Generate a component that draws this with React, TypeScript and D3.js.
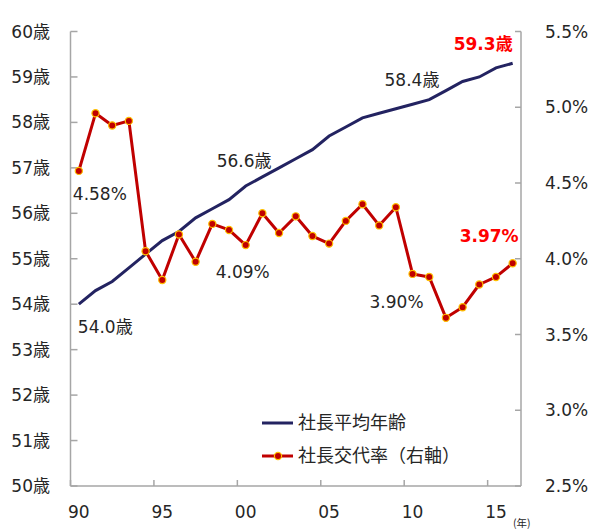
import React from "react";
import * as d3 from "d3";

// 社長平均年齢 (左軸) と 社長交代率 (右軸)
const years = d3.range(1990, 2017);
const ageValues = [
  54.0, 54.3, 54.5, 54.8, 55.1, 55.4, 55.6, 55.9, 56.1, 56.3, 56.6, 56.8, 57.0, 57.2,
  57.4, 57.7, 57.9, 58.1, 58.2, 58.3, 58.4, 58.5, 58.7, 58.9, 59.0, 59.2, 59.3,
];
const rateValues = [
  4.58, 4.96, 4.88, 4.91, 4.05, 3.86, 4.16, 3.98, 4.23, 4.19, 4.09, 4.3, 4.17, 4.28,
  4.15, 4.1, 4.25, 4.36, 4.22, 4.34, 3.9, 3.88, 3.61, 3.68, 3.83, 3.88, 3.97,
];
const ageTicks = d3.range(50, 61);
const rateTicks = [2.5, 3.0, 3.5, 4.0, 4.5, 5.0, 5.5];
const xTickYears = [1990, 1995, 2000, 2005, 2010, 2015];
const seriesNames = ["社長平均年齢", "社長交代率（右軸）"];

// 注記: [系列, 年, テキスト, 強調]
const notes: [string, number, string, boolean][] = [
  ["rate", 1990, "4.58%", false],
  ["rate", 2000, "4.09%", false],
  ["rate", 2010, "3.90%", false],
  ["rate", 2016, "3.97%", true],
  ["age", 1990, "54.0歳", false],
  ["age", 2000, "56.6歳", false],
  ["age", 2010, "58.4歳", false],
  ["age", 2016, "59.3歳", true],
];

const W = 600;
const H = 531;
const left = 70.5;
const right = 521;
const top = 31.5;
const bottom = 486;

const FONT = "'DejaVu Sans', 'Noto Sans CJK JP', sans-serif";
const JP = "'Noto Sans CJK JP', sans-serif";
const NAVY = "#232361";
const RED = "#C00000";
const AXIS = "#A6A6A6";
const TEXT = "#262626";

// 注記の位置 (点からのずれ)
const noteOffset: Record<string, [number, number, string]> = {
  "4.58%": [-6, 29, "start"],
  "4.09%": [-30, 33, "start"],
  "3.90%": [-43, 34, "start"],
  "3.97%": [6, -21, "end"],
  "54.0歳": [-1, 29, "start"],
  "56.6歳": [-29, -19, "start"],
  "58.4歳": [-28, -18, "start"],
  "59.3歳": [0, -13, "end"],
};

export default function App() {
  const x = d3.scaleBand<number>().domain(years).range([left, right]);
  const cx = (yr: number) => (x(yr) ?? 0) + x.bandwidth() / 2;
  const yAge = d3.scaleLinear().domain([50, 60]).range([bottom, top]);
  const yRate = d3.scaleLinear().domain([2.5, 5.5]).range([bottom, top]);

  const ageLine = d3
    .line<number>()
    .x((_, i) => cx(years[i]))
    .y((d) => yAge(d));
  const rateLine = d3
    .line<number>()
    .x((_, i) => cx(years[i]))
    .y((d) => yRate(d));

  return (
    <svg
      width={W}
      height={H}
      style={{ position: "absolute", left: 0, top: 0, background: "#fff" }}
      fontFamily={FONT}
    >
      {/* axes */}
      <line x1={left} x2={left} y1={top} y2={bottom} stroke={AXIS} strokeWidth={1.5} />
      <line x1={right} x2={right} y1={top} y2={bottom} stroke={AXIS} strokeWidth={1.5} />
      <line x1={left} x2={right} y1={bottom} y2={bottom} stroke={AXIS} strokeWidth={1.5} />

      {ageTicks.map((t) => (
        <g key={"a" + t}>
          <line x1={left} x2={left + 7} y1={yAge(t)} y2={yAge(t)} stroke={AXIS} strokeWidth={1.5} />
          <text x={50} y={yAge(t) + 6} textAnchor="end" fontSize={17} fill={TEXT}>
            {t}
            <tspan fontFamily={JP}>歳</tspan>
          </text>
        </g>
      ))}

      {rateTicks.map((t) => (
        <g key={"r" + t}>
          <line x1={right - 6} x2={right} y1={yRate(t)} y2={yRate(t)} stroke={AXIS} strokeWidth={1.5} />
          <text x={545} y={yRate(t) + 6} fontSize={17} fill={TEXT}>
            {t.toFixed(1)}%
          </text>
        </g>
      ))}

      {xTickYears.map((yr) => (
        <g key={"x" + yr}>
          <line
            x1={x(yr)}
            x2={x(yr)}
            y1={bottom}
            y2={bottom - 6}
            stroke={AXIS}
            strokeWidth={1.5}
          />
          <text x={cx(yr)} y={518} textAnchor="middle" fontSize={17} fill={TEXT}>
            {String(yr).slice(2)}
          </text>
        </g>
      ))}
      <text x={513} y={527} fontSize={10.5} fontFamily={JP} fill={TEXT}>
        (年)
      </text>

      {/* series */}
      <path d={ageLine(ageValues) ?? ""} fill="none" stroke={NAVY} strokeWidth={3} />
      <path d={rateLine(rateValues) ?? ""} fill="none" stroke={RED} strokeWidth={3} strokeLinejoin="round" />
      {rateValues.map((v, i) => (
        <circle key={i} cx={cx(years[i])} cy={yRate(v)} r={3.6} fill={RED} stroke="#FFC000" strokeWidth={1.2} />
      ))}

      {/* notes */}
      {notes.map(([s, yr, label, bold]) => {
        const i = years.indexOf(yr);
        const px = cx(yr);
        const py = s === "age" ? yAge(ageValues[i]) : yRate(rateValues[i]);
        const [dx, dy, anchor] = noteOffset[label];
        const isAge = label.endsWith("歳");
        return (
          <text
            key={label}
            x={px + dx}
            y={py + dy}
            textAnchor={anchor as any}
            fontSize={17}
            fontWeight={bold ? "bold" : "normal"}
            fill={bold ? "#FF0000" : TEXT}
          >
            {isAge ? label.slice(0, -1) : label}
            {isAge && <tspan fontFamily={JP}>歳</tspan>}
          </text>
        );
      })}

      {/* legend */}
      <g>
        <line x1={262} x2={293} y1={423} y2={423} stroke={NAVY} strokeWidth={3} />
        <text x={298} y={429} fontSize={18} fontFamily={JP} fill={TEXT}>
          {seriesNames[0]}
        </text>
        <line x1={262} x2={293} y1={456} y2={456} stroke={RED} strokeWidth={3} />
        <circle cx={278} cy={456} r={3.6} fill={RED} stroke="#FFC000" strokeWidth={1.2} />
        <text x={298} y={462} fontSize={18} fontFamily={JP} fill={TEXT}>
          {seriesNames[1]}
        </text>
      </g>
    </svg>
  );
}
